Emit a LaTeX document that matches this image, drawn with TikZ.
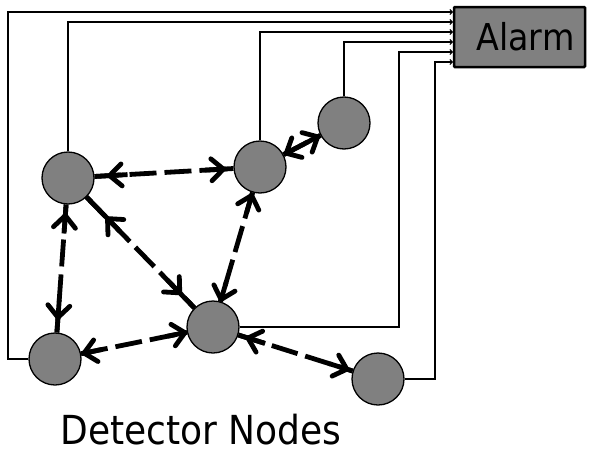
\documentclass[tikz,border=0pt]{standalone}
\usepackage{fontspec}
\newfontfamily\labelfont{DejaVu Sans Condensed}
\usetikzlibrary{arrows.meta,decorations.markings,calc}
\definecolor{nodegray}{HTML}{808080}
\begin{document}
\begin{tikzpicture}[x=1pt,y=-1pt,
  det/.style={circle,draw=black,line width=1.3pt,fill=nodegray,minimum size=52pt,inner sep=0pt},
  alarmbox/.style={draw=black,line width=2.5pt,fill=nodegray,minimum width=131pt,minimum height=60pt,inner sep=0pt,rounded corners=1pt,font=\labelfont\fontsize{37}{40}\selectfont},
  barb/.style={solid,line width=4.8pt,line cap=round,line join=round},
  wire/.style={line width=1.7pt,-{Straight Barb[length=2.5pt,width=5pt,line width=1pt]}},
  link/.style 2 args={line width=4.8pt,dash pattern=on 27pt off 8pt,
    postaction={decorate,decoration={markings,
      mark=at position 0.01pt with {\draw[solid,line width=4.8pt] (-0.01pt,0pt) -- (#1+18pt,0pt);},
      mark=at position #1 with {\draw[barb] (12pt,-11pt) -- (0pt,0pt) -- (12pt,11pt);},
      mark=at position -#2-18pt with {\draw[solid,line width=4.8pt] (0pt,0pt) -- (#2+18pt,0pt);},
      mark=at position -#2 with {\draw[barb] (-12pt,-11pt) -- (0pt,0pt) -- (-12pt,11pt);}}}}]
\useasboundingbox (0,0) rectangle (589,450);

\node[det] (A) at (68,178) {};
\node[det] (B) at (260,167) {};
\node[det] (C) at (344,123) {};
\node[det] (D) at (55,359) {};
\node[det] (E) at (213,327) {};
\node[det] (F) at (378,379) {};
\node[alarmbox] (alarm) at (519.5,37) {\hspace*{12pt}Alarm};
\node[font=\labelfont\fontsize{40}{44}\selectfont,anchor=base,inner sep=0pt] (caption) at (201,444) {Detector Nodes};

\coordinate (in1) at (453,12);
\coordinate (in2) at (453,22);
\coordinate (in3) at (453,32);
\coordinate (in4) at (453,42);
\coordinate (in5) at (453,52);
\coordinate (in6) at (453,62);

\draw[wire] (D.west) -- (8,359) -- (8,12) -- (in1);
\draw[wire] (A.north) |- (in2);
\draw[wire] (B.north) |- (in3);
\draw[wire] (C.north) |- (in4);
\draw[wire] (E.east) -| (399,52) -- (in5);
\draw[wire] (F.east) -| (435,62) -- (in6);

\draw[link={15pt}{10pt}] (A) -- (B);
\draw[link={3pt}{3pt}] (B) -- (C);
\draw[link={11pt}{15pt}] (A) -- (D);
\draw[link={30pt}{21pt}] (A) -- (E);
\draw[link={3pt}{2pt}] (B) -- (E);
\draw[link={3pt}{2pt}] (D) -- (E);
\draw[link={10pt}{6pt}] (E) -- (F);
\end{tikzpicture}
\end{document}
